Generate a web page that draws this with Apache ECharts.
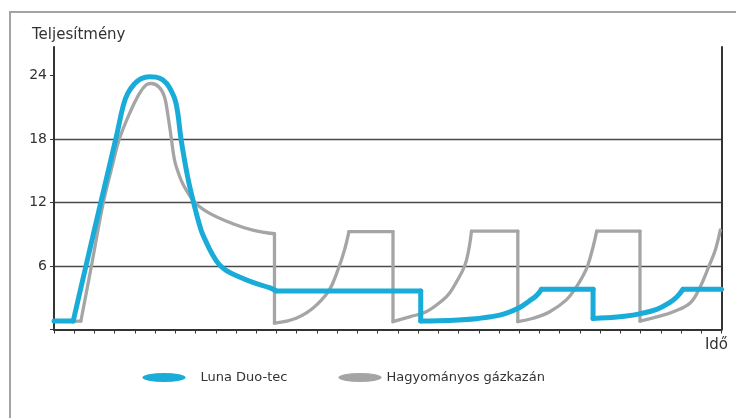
<!DOCTYPE html>
<html>
<head>
<meta charset="utf-8">
<script src="https://cdn.jsdelivr.net/npm/echarts@6/dist/echarts.min.js"></script>
<style>html,body{margin:0;padding:0;background:#fff;}#c{width:736px;height:418px;}</style>
</head>
<body>
<div id="c"></div>
<script>
const seriesNames = ['Luna Duo-tec', 'Hagyományos gázkazán'];
const yTickValues = [6, 12, 18, 24];
const lunaTime = [0, 0.95, 1.58, 2.35, 3.09, 3.43, 3.64, 3.97, 4.3, 4.71, 5.05, 5.37, 5.7, 6.03, 6.28, 6.61, 6.9, 7.27, 7.48, 7.8, 8.18, 8.55, 9.0, 9.83, 10.65, 10.98, 18.13, 18.13, 19.0, 20.0, 21.0, 21.6, 22.3, 23.0, 23.5, 23.85, 24.1, 26.65, 26.65, 27.3, 28.2, 29.0, 29.8, 30.4, 30.8, 31.1, 33];
const lunaPower = [0.8, 0.8, 6.0, 12.3, 18.3, 21.2, 22.3, 23.2, 23.7, 23.9, 23.85, 23.6, 22.9, 21.4, 18.0, 14.4, 12.0, 9.4, 8.45, 7.2, 6.1, 5.55, 5.1, 4.45, 3.95, 3.65, 3.65, 0.8, 0.82, 0.9, 1.05, 1.2, 1.5, 2.05, 2.7, 3.2, 3.8, 3.8, 1.05, 1.1, 1.25, 1.5, 1.9, 2.5, 3.1, 3.8, 3.8];
const hagyTime = [0, 1.33, 1.85, 2.44, 2.9, 3.23, 3.8, 4.22, 4.55, 4.8, 5.2, 5.46, 5.62, 5.79, 5.96, 6.15, 6.36, 6.94, 7.68, 8.84, 9.83, 10.9, 10.9, 11.5, 11.97, 12.5, 12.97, 13.6, 14.03, 14.36, 14.58, 16.76, 16.76, 17.58, 18.4, 19.23, 19.56, 19.9, 20.3, 20.5, 20.64, 22.93, 22.93, 23.69, 24.51, 25.33, 25.82, 26.16, 26.38, 26.65, 26.83, 28.97, 28.97, 29.8, 30.62, 31.45, 31.94, 32.36, 32.69, 32.94];
const hagyPower = [0.8, 0.8, 6.0, 12.0, 15.6, 18.0, 20.7, 22.3, 23.1, 23.25, 22.9, 22.0, 20.4, 18.2, 16.0, 14.8, 13.8, 12.07, 11.0, 10.0, 9.4, 9.05, 0.6, 0.8, 1.06, 1.6, 2.3, 3.7, 5.6, 7.5, 9.25, 9.25, 0.74, 1.2, 1.68, 2.8, 3.45, 4.5, 6.0, 7.5, 9.3, 9.3, 0.74, 1.06, 1.68, 2.8, 4.0, 5.1, 6.0, 7.8, 9.3, 9.3, 0.8, 1.2, 1.68, 2.5, 4.0, 5.9, 7.5, 9.4];

// Split a curve into pieces at its sharp corners (points next to a flat or
// vertical step), so each piece is smoothed on its own and corners stay sharp.
function splitPieces(xs, ys) {
  const n = xs.length;
  const isCorner = i => {
    if (i === 0 || i === n - 1) return true;
    const flatPrev = ys[i - 1] === ys[i] || xs[i - 1] === xs[i];
    const flatNext = ys[i + 1] === ys[i] || xs[i + 1] === xs[i];
    return flatPrev || flatNext;
  };
  const pieces = [];
  let start = 0;
  for (let i = 1; i < n; i++) {
    if (isCorner(i)) {
      const piece = [];
      for (let k = start; k <= i; k++) piece.push([xs[k], ys[k]]);
      pieces.push(piece);
      start = i;
    }
  }
  return pieces;
}
const FONT = 'DejaVu Sans';
const ellipse = 'path://M0,4.5 A21.5,4.5 0 1,1 43,4.5 A21.5,4.5 0 1,1 0,4.5 Z';
const BLUE = '#19acd8', GRAY = '#a5a5a5';

function curveSeries(name, xs, ys, color, width, z) {
  return splitPieces(xs, ys).map(piece => ({
    name, type: 'line', data: piece, showSymbol: false, smooth: piece.length > 2 ? 0.4 : false,
    color, lineStyle: {width, color, join: 'round', cap: 'round'}, z
  }));
}

const chart = echarts.init(document.getElementById('c'), null, {renderer: 'canvas'});
chart.setOption({
  animation: false,
  backgroundColor: '#fff',
  textStyle: {fontFamily: FONT},
  grid: {left: 54, right: 14.5, top: 47, bottom: 88.5},
  graphic: [
    {type: 'rect', shape: {x: 10, y: 12, width: 800, height: 500}, style: {fill: 'none', stroke: '#a3a3a3', lineWidth: 2}, silent: true},
    {type: 'text', left: 32, top: 28, style: {text: 'Teljesítmény', font: '15px "DejaVu Sans"', fill: '#333'}},
    {type: 'text', right: 8, top: 338, style: {text: 'Idő', font: '15px "DejaVu Sans"', fill: '#333'}}
  ],
  legend: [
    {data: [seriesNames[0]], left: 137.5, top: 366, itemWidth: 43, itemHeight: 9, icon: ellipse, symbolKeepAspect: false,
     textStyle: {fontFamily: FONT, fontSize: 13, color: '#333', padding: [0, 0, 0, 10]}},
    {data: [seriesNames[1]], left: 333.5, top: 366, itemWidth: 43, itemHeight: 9, icon: ellipse, symbolKeepAspect: false,
     textStyle: {fontFamily: FONT, fontSize: 13, color: '#333'}}
  ],
  xAxis: {
    type: 'value', min: 0, max: 33, interval: 1,
    axisLine: {lineStyle: {color: '#333', width: 2}},
    axisTick: {show: true, length: 4, lineStyle: {color: '#333', width: 1}},
    axisLabel: {show: false},
    splitLine: {show: false}
  },
  yAxis: [
    {
      type: 'value', min: 0, max: 26.7, interval: 6,
      axisLine: {show: true, lineStyle: {color: '#333', width: 2}},
      axisTick: {show: true, length: 4, lineStyle: {color: '#333', width: 1}, customValues: [0].concat(yTickValues)},
      axisLabel: {color: '#333', fontSize: 14, fontFamily: FONT, margin: 7, customValues: yTickValues},
      splitLine: {show: true, showMinLine: false, showMaxLine: false, lineStyle: {color: '#4a4a4a', width: 1.3}}
    },
    {
      type: 'value', min: 0, max: 26.7, position: 'right',
      axisLine: {show: true, lineStyle: {color: '#333', width: 2}},
      axisTick: {show: false}, axisLabel: {show: false}, splitLine: {show: false}
    }
  ],
  series: curveSeries(seriesNames[1], hagyTime, hagyPower, GRAY, 3.3, 2)
    .concat(curveSeries(seriesNames[0], lunaTime, lunaPower, BLUE, 5, 3))
});
</script>
</body>
</html>
